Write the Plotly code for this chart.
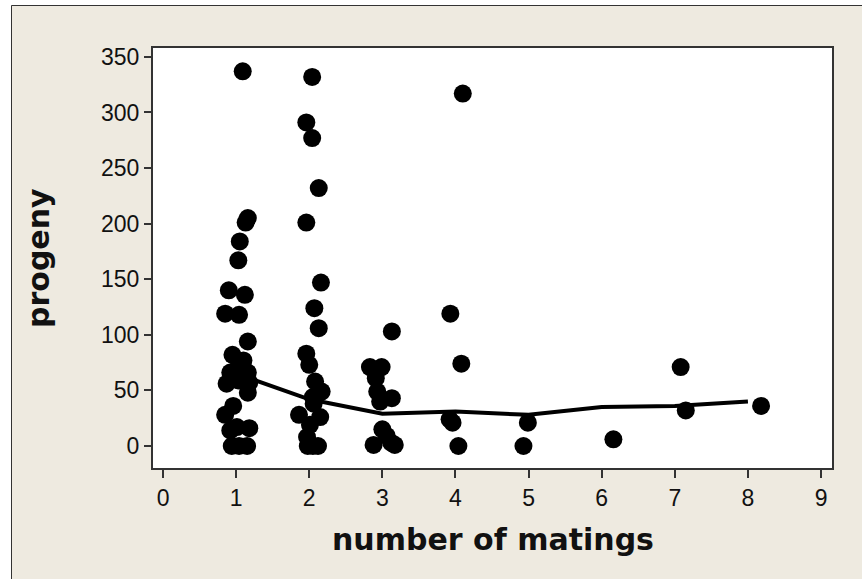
import plotly.graph_objects as go

# Number of matings per female (jittered horizontally) and progeny counts
matings = [
    1.09, 1.16, 1.13, 1.05, 1.03, 0.90, 1.12, 0.85, 1.04, 1.16, 0.95, 1.10, 0.92, 1.03,
    1.16, 0.87, 1.03, 1.18, 1.16, 1.00, 0.96, 0.85, 1.01, 1.18, 0.92, 0.94, 1.04, 1.15,
    2.04, 1.96, 2.04, 2.13, 1.96, 2.16, 2.07, 2.13, 1.96, 2.00, 2.08, 2.17, 2.05, 2.06,
    1.86, 2.15, 2.01, 1.97, 1.98, 2.12, 2.05,
    3.13, 2.83, 2.99, 2.91, 2.93, 3.13, 2.97, 3.00, 3.06, 2.88, 3.17, 3.12,
    3.93, 4.10, 4.08, 3.92, 3.96, 4.04,
    4.99, 4.93, 6.16, 7.08, 7.15, 8.18,
]
progeny = [
    337, 205, 201, 184, 167, 140, 136, 119, 118, 94, 82, 77, 66, 71,
    66, 56, 59, 57, 48, 64, 36, 28, 17, 16, 14, 0, 0, 0,
    332, 291, 277, 232, 201, 147, 124, 106, 83, 73, 58, 49, 44, 38,
    28, 26, 19, 8, 0, 0, 0,
    103, 71, 71, 61, 49, 43, 40, 15, 9, 1, 1, 3,
    119, 317, 74, 24, 21, 0,
    21, 0, 6, 71, 32, 36,
]

# Smoothed trend of progeny against number of matings
smooth_x = [1, 2, 3, 4, 5, 6, 7, 8]
smooth_y = [65, 42, 29, 31, 28, 35, 36, 40]

x_ticks = list(range(0, 10))
y_ticks = list(range(0, 351, 50))

BEIGE = "#EEEAE0"
FRAME = "#333333"
TICK_FONT = dict(family="Liberation Sans", size=23, color="#111111")
TITLE_FONT = dict(family="DejaVu Sans", size=30, color="#111111")

fig = go.Figure()
fig.add_trace(go.Scatter(
    x=matings, y=progeny, mode="markers",
    marker=dict(size=18, color="black", line=dict(width=0)),
    showlegend=False, hoverinfo="x+y",
))
fig.add_trace(go.Scatter(
    x=smooth_x, y=smooth_y, mode="lines",
    line=dict(color="black", width=4),
    showlegend=False,
))

axis_common = dict(
    showgrid=False, zeroline=False, showline=True, mirror=True,
    linecolor=FRAME, linewidth=2, ticks="outside", tickcolor=FRAME,
    tickwidth=1.5, tickfont=TICK_FONT,
)
fig.update_xaxes(range=[-0.137, 9.15], tickmode="array", tickvals=x_ticks,
                 ticklen=8, **axis_common)
fig.update_yaxes(range=[-19.8, 358], tickmode="array", tickvals=y_ticks,
                 ticklen=7, **axis_common)

W, H = 862, 579
ml, mr, mt, mb = 153, 30, 48, 111
pw, ph = W - ml - mr, H - mt - mb

def px(xp):
    return (xp - ml) / pw

def py(yp):
    return 1 - (yp - mt) / ph

shapes = [
    # white strips outside the framed panel
    dict(type="rect", xref="paper", yref="paper", x0=px(0), x1=px(11),
         y0=py(H), y1=py(0), fillcolor="white", line=dict(width=0), layer="below"),
    dict(type="rect", xref="paper", yref="paper", x0=px(0), x1=px(W),
         y0=py(5), y1=py(0), fillcolor="white", line=dict(width=0), layer="below"),
    # panel frame
    dict(type="line", xref="paper", yref="paper", x0=px(11.5), x1=px(11.5),
         y0=py(H), y1=py(5.5), line=dict(color=FRAME, width=1)),
    dict(type="line", xref="paper", yref="paper", x0=px(11.5), x1=px(W),
         y0=py(5.5), y1=py(5.5), line=dict(color=FRAME, width=1)),
]

annotations = [
    dict(text="<b>number of matings</b>", xref="paper", yref="paper",
         x=0.5, y=py(539), xanchor="center", yanchor="middle",
         showarrow=False, font=TITLE_FONT),
    dict(text="<b>progeny</b>", xref="paper", yref="paper",
         x=px(38), y=0.5, xanchor="center", yanchor="middle", textangle=-90,
         showarrow=False, font=TITLE_FONT),
]

fig.update_layout(
    width=W, height=H,
    margin=dict(l=ml, r=mr, t=mt, b=mb, pad=0),
    paper_bgcolor=BEIGE, plot_bgcolor="white",
    shapes=shapes, annotations=annotations,
)

fig.write_html("out.html")
